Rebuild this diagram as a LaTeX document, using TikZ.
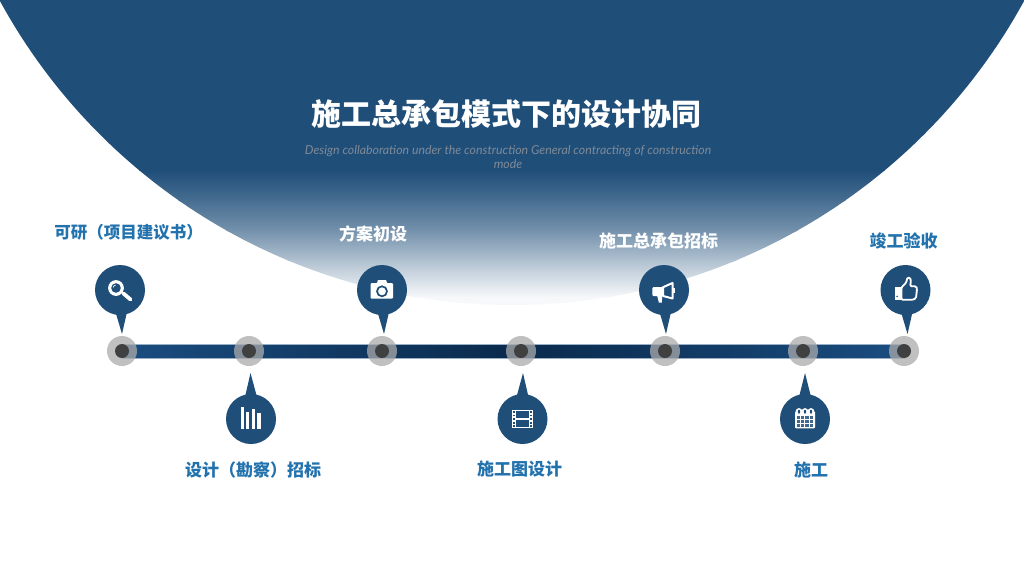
\documentclass[tikz,border=0pt]{standalone}
\usepackage{fontspec}
\setmainfont{Noto Sans CJK SC}
\newfontfamily\subfont{Lato}

\definecolor{capblue}{HTML}{1F4E79}
\definecolor{lblblue}{HTML}{2272AE}
\definecolor{barblue}{HTML}{1A4D80}
\definecolor{bardark}{HTML}{0A2A4C}
\definecolor{haloGray}{HTML}{ABABAB}
\definecolor{dotGray}{HTML}{404040}
\definecolor{subGray}{HTML}{7F8A97}

\tikzset{
  iconlens/.pic={
    \draw[white, line width=3.8pt, line cap=round] (3.5,3.5) -- (10.5,9.5);
    \fill[white] (-4,-2) circle (7.9);
    \fill[capblue] (-4,-2) circle (4.8);
    \draw[white, line width=0.7pt] (-6.7,-2.6) arc (180:270:2.2);
  },
  iconcamera/.pic={
    \fill[white, rounded corners=1pt] (-11.5,-7) rectangle (11,8.5);
    \fill[white] (-5.5,-6) -- (-4,-10) -- (4,-10) -- (5.5,-6) -- cycle;
    \draw[capblue, line width=1.7pt] (0,1.3) circle (5);
  },
  iconhorn/.pic={
    \fill[white, rounded corners=1pt] (-11.7,-2.8) rectangle (-1,6);
    \fill[white] (-7,5) -- (-1.7,5) -- (-2.2,12.5) -- (-5.2,12.5) -- cycle;
    \draw[white, line width=2pt, line join=round, fill=capblue] (-1,-2.8) -- (8.5,-7) -- (8.5,8.5) -- (-1,6) -- cycle;
    \fill[white] (9,-2.2) rectangle (10.8,2.8);
  },
  iconthumb/.pic={
    \fill[white] (-11,-3.3) rectangle (-4,10.4);
    \fill[capblue] (-8.4,6.4) circle (0.9);
    \draw[white, line width=1.8pt, line join=round, rounded corners=1.2pt, fill=capblue]
      (-4,-2.8) -- (0.5,-7) -- (2,-12.5) -- (5,-12) -- (5.3,-7) -- (4.5,-4) -- (11,-3.5)
      -- (11.5,-1) -- (10.5,8) -- (7.5,9.8) -- (-4,9.8) -- cycle;
  },
  iconbars/.pic={
    \foreach \xa/\xb/\yt in {-10.4/-7/-12.3, -5/-1.6/-7.5, 0.6/4/-10, 6.3/9.7/-6}
    \fill[white] (\xa,\yt) rectangle (\xb,10.3);
  },
  iconfilm/.pic={
    \fill[white] (-10.7,-9.3) rectangle (10.7,9.2);
    \fill[capblue] (-6.3,-7.9) rectangle (6.3,-1);
    \fill[capblue] (-6.3,0.9) rectangle (6.3,7.8);
    \foreach \y in {-7.2,-3.6,0,3.6,7.2}{
      \fill[capblue] (-9.5,\y-0.9) rectangle (-7.7,\y+0.9);
      \fill[capblue] (7.7,\y-0.9) rectangle (9.5,\y+0.9);
    }
  },
  iconcalendar/.pic={
    \fill[white, rounded corners=1pt] (-10,-7.5) rectangle (10,9.3);
    \foreach \x in {-6,0,6}{
      \fill[white] (\x,-7.5) circle (3.4);
      \fill[capblue] (\x,-7.3) ellipse (1.2 and 2);
    }
    \foreach \x in {-8.5,-4.1,0.3,4.7}
    \foreach \y in {-2.8,1,4.8}
    \fill[capblue!85] (\x,\y) rectangle +(3.3,2.7);
  },
}

\begin{document}
\begin{tikzpicture}[
    x=1pt, y=-1pt,
    halo/.style={circle, fill=haloGray, fill opacity=0.75, inner sep=0pt, minimum size=30pt},
    core/.style={circle, fill=dotGray, inner sep=0pt, minimum size=14pt},
    pinhead/.style={circle, fill=capblue, inner sep=0pt, minimum size=50pt},
    pintail/.style={fill=capblue},
    steplbl/.style={font=\fontsize{17}{20}\selectfont\bfseries, text=lblblue, inner sep=0pt},
    steplblw/.style={steplbl, text=white},
    titlelbl/.style={font=\fontsize{30}{36}\selectfont\bfseries, text=white, inner sep=0pt},
    sublbl/.style={font=\subfont\itshape\fontsize{12.3}{14}\selectfont, text=subGray, align=center, inner sep=0pt},
  ]
  \useasboundingbox (0,0) rectangle (1024,576);
  \fill[white] (0,0) rectangle (1024,576);

  % ---------- big disc, fading out towards the bottom ----------
  \begin{scope}
    \clip (512,-278) circle (583);
    \fill[capblue] (0,0) rectangle (1024,171);
    \fill[white!96!capblue] (0,296) rectangle (1024,305);
    \foreach \ya/\yb/\ca/\cb in {170/201/0/18, 200/231/18/38, 230/261/38/65, 260/297/65/96}
    \shade[top color=white!\ca!capblue, bottom color=white!\cb!capblue] (0,\ya) rectangle (1024,\yb);
  \end{scope}

  % ---------- stop coordinates on the bar ----------
  \foreach \n/\x in {1/122, 2/249, 3/382, 4/521, 5/665, 6/803, 7/904}
  \coordinate (stop\n) at (\x,351);

  % ---------- pin tips ----------
  \coordinate (tip1) at (122,334);
  \coordinate (tip3) at (384,334);
  \coordinate (tip5) at (666,334);
  \coordinate (tip7) at (907.5,334);
  \coordinate (tip2) at (250.5,373);
  \coordinate (tip4) at (523,373);
  \coordinate (tip6) at (805,373);

  % ---------- bar ----------
  \shade[left color=barblue, right color=barblue, middle color=bardark, draw=barblue!45, line width=0.7pt]
    ([yshift=7pt]stop1) rectangle ([yshift=-7pt]stop7);

  % ---------- stop dots (on top of the bar) ----------
  \foreach \n in {1,...,7}{
    \node[halo] (halo\n) at (stop\n) {};
    \node[core] (core\n) at (stop\n) {};
  }

  % ---------- pins above the bar ----------
  \node[pinhead] (pin1) at (120,290) {};
  \node[pinhead] (pin3) at (382,290) {};
  \node[pinhead] (pin5) at (664,290) {};
  \node[pinhead] (pin7) at (905.5,290) {};
  \foreach \n in {1,3,5,7}
  \fill[pintail] ([shift={(-4.5,22)}]pin\n.center) -- ([shift={(7,22)}]pin\n.center) -- (tip\n) -- cycle;

  % ---------- pins below the bar ----------
  \node[pinhead] (pin2) at (251,419) {};
  \node[pinhead] (pin4) at (522.5,419) {};
  \node[pinhead] (pin6) at (805,419) {};
  \foreach \n in {2,4,6}
  \fill[pintail] ([shift={(-6,-22)}]pin\n.center) -- ([shift={(6,-22)}]pin\n.center) -- (tip\n) -- cycle;

  % ---------- icons ----------
  \pic at (pin1.center) {iconlens};
  \pic at (pin2.center) {iconbars};
  \pic at (pin3.center) {iconcamera};
  \pic at (pin4.center) {iconfilm};
  \pic at (pin5.center) {iconhorn};
  \pic at (pin6.center) {iconcalendar};
  \pic at (pin7.center) {iconthumb};

  % ---------- labels ----------
  \node[titlelbl] (title) at (506,114) {施工总承包模式下的设计协同};
  \node[sublbl] (subtitle) at (508,157.5) {Design collaboration under the construction General contracting of construction\\mode};

  \node[steplbl, font=\fontsize{16.5}{20}\selectfont\bfseries] (lbl1) at (128.5,232.5) {可研（项目建议书）};
  \node[steplbl] (lbl2) at (253,470) {设计（勘察）招标};
  \node[steplblw] (lbl3) at (373,233.5) {方案初设};
  \node[steplbl] (lbl4) at (519.5,469.5) {施工图设计};
  \node[steplblw] (lbl5) at (658.5,240.5) {施工总承包招标};
  \node[steplbl] (lbl6) at (811,469.5) {施工};
  \node[steplbl] (lbl7) at (903.5,240.5) {竣工验收};

\end{tikzpicture}
\end{document}
